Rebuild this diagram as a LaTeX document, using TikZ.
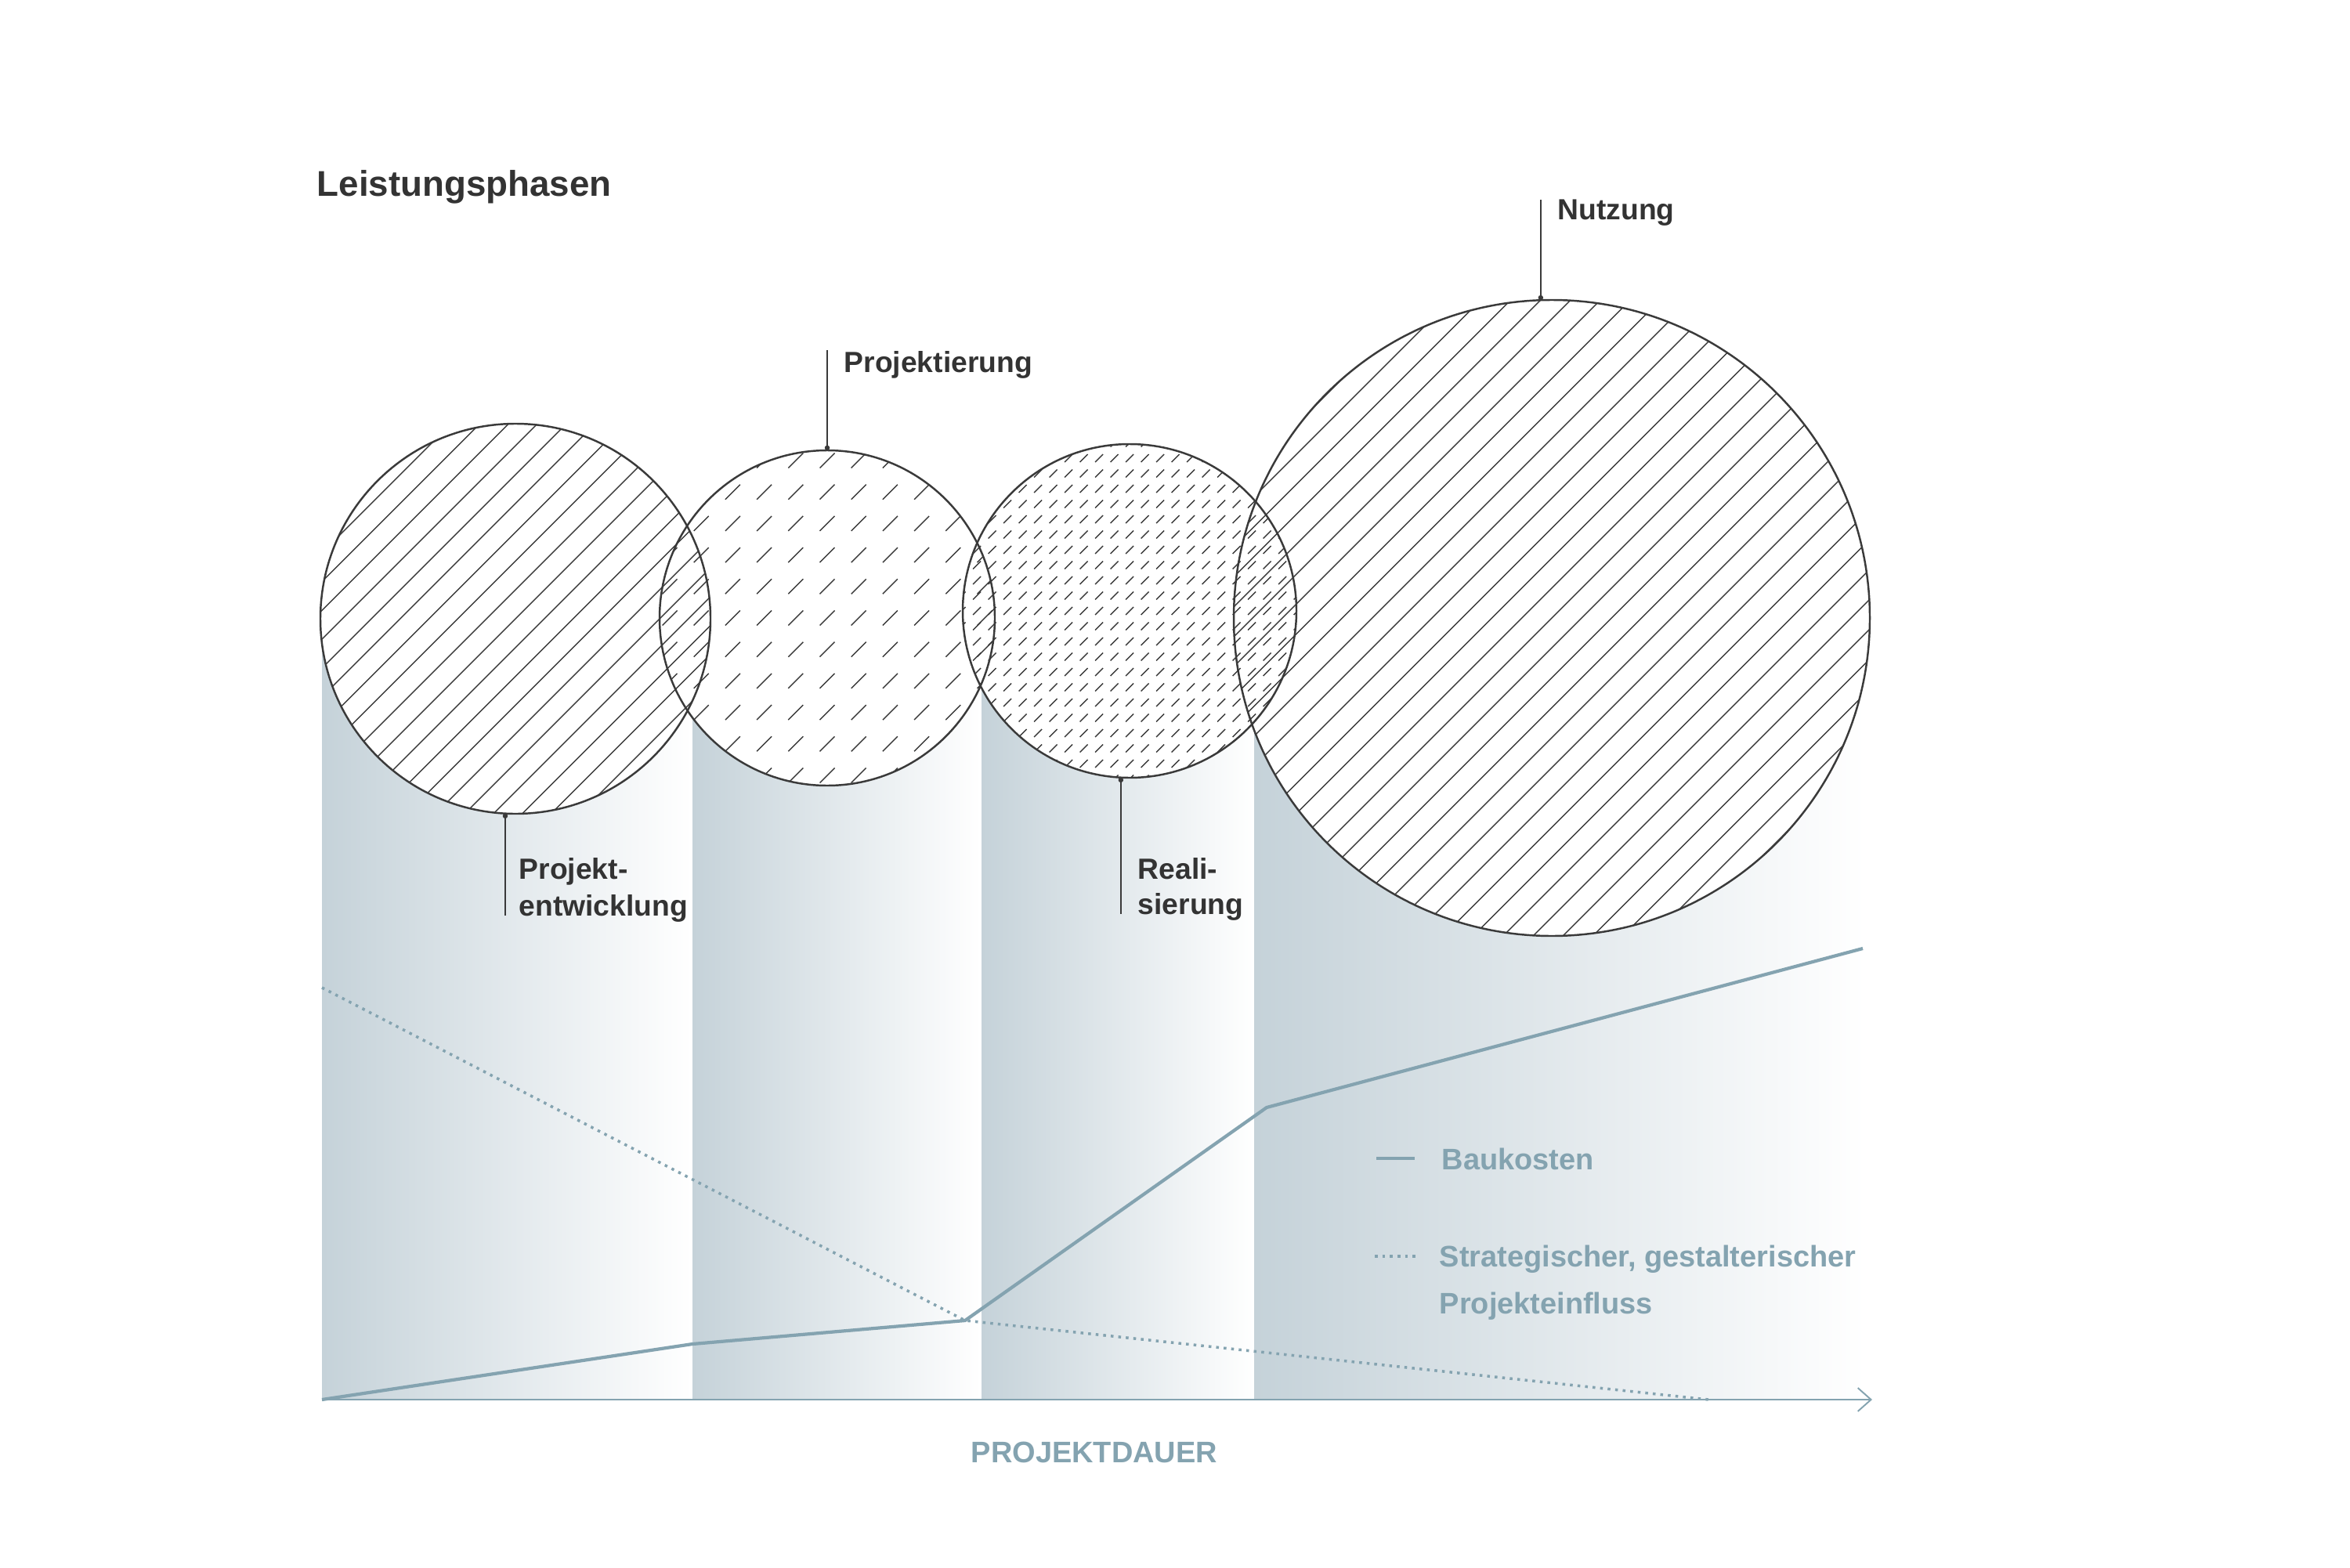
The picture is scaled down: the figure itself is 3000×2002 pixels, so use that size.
\documentclass[tikz,border=0pt]{standalone}
\usepackage{fontspec}
\setmainfont{Liberation Sans}
\usetikzlibrary{arrows.meta}
\definecolor{ink}{HTML}{333333}
\definecolor{rim}{HTML}{3A3A3A}
\definecolor{chart}{HTML}{84A3B0}
\definecolor{colshade}{HTML}{C5D2D9}

\begin{document}
\begin{tikzpicture}[x=0.1mm,y=-0.1mm,
  phase/.style={circle, draw=rim, line width=0.7pt, inner sep=0pt, outer sep=0pt},
  hatchline/.style={rim, line width=0.4pt},
  lines hatch/.style={path picture={
      \foreach \k in {-16,...,16}
        \draw[hatchline] ([xshift=\k*#1]path picture bounding box.center)
          ++(-60mm,-60mm) -- ++(120mm,120mm);}},
  dash hatch/.style n args={3}{path picture={
      \foreach \i in {-#3,...,#3}
        \foreach \j in {-#3,...,#3}
          \draw[hatchline] ([shift={(\i*#1,\j*#1)}]path picture bounding box.center)
            ++(-#2,-#2) -- ++(2*#2,2*#2);}},
  lbl/.style={font=\bfseries\fontsize{10.6}{12.8}\selectfont, text=ink, inner sep=0pt, anchor=base west},
  title/.style={font=\bfseries\fontsize{13}{16}\selectfont, text=ink, inner sep=0pt, anchor=base west},
  legend/.style={font=\bfseries\fontsize{10.8}{13}\selectfont, text=chart, inner sep=0pt, anchor=base west},
  axislabel/.style={font=\bfseries\fontsize{10.8}{13}\selectfont, text=chart, inner sep=0pt, anchor=base},
  leader/.style={rim, line width=0.6pt, {Circle[length=1.8pt]}-},
  cost/.style={chart, line width=1.2pt, line join=round},
  influence/.style={chart, line width=1pt, dash pattern=on 1pt off 1.75pt},
  axis/.style={chart, line width=0.55pt, -{Straight Barb[length=4.8pt,width=8.5pt]}}]
  \useasboundingbox (0,0) rectangle (3000,2002);

  % phase columns
  \foreach \a/\b in {411/884, 884/1253, 1253/1601, 1601/2382}
    \shade[left color=colshade, right color=white] (\a,830) rectangle (\b,1787);

  % axis and curves
  \coordinate (o) at (411,1787);
  \coordinate (tend) at (2390,1787);
  \draw[axis] (o) -- (tend);
  \node[axislabel] (dauer) at (1397,1867) {PROJEKTDAUER};
  \draw[cost] (o) -- (884,1716) -- (1232,1686) -- (1617,1414) -- (2378,1211);
  \draw[influence] (411,1261) -- (1232,1686) -- (2181,1787);

  % legend
  \node[legend] (lg1) at (1840,1493) {Baukosten};
  \node[legend] (lg2) at (1837,1617) {Strategischer, gestalterischer};
  \node[legend] (lg3) at (1837,1677) {Projekteinfluss};
  \draw[cost] (1757,1479) -- (1806,1479);
  \draw[influence] (1755,1604) -- (1808,1604);

  % phases
  \coordinate (m1) at (658,790);
  \coordinate (m2) at (1056,789);
  \coordinate (m3) at (1442,780);
  \coordinate (m4) at (1981,789);
  \foreach \m/\r in {m1/24.9mm, m2/21.4mm, m3/21.3mm, m4/40.6mm}
    \fill[white] (\m) circle[radius=\r];
  \node[phase, minimum size=49.8mm, lines hatch=3.68mm] (c1) at (m1) {};
  \node[phase, minimum size=42.8mm, dash hatch={4.02mm}{0.95mm}{6}] (c2) at (m2) {};
  \node[phase, minimum size=42.6mm, dash hatch={1.95mm}{0.5mm}{12}] (c3) at (m3) {};
  \node[phase, minimum size=81.2mm, lines hatch=3.82mm] (c4) at (m4) {};

  % labels
  \node[title] (head) at (404,251) {Leistungsphasen};
  \node[lbl] (lpe1) at (662,1122) {Projekt-};
  \node[lbl] (lpe2) at (662,1169) {entwicklung};
  \node[lbl] (lpr) at (1077,475) {Projektierung};
  \node[lbl] (lre1) at (1452,1122) {Reali-};
  \node[lbl] (lre2) at (1452,1167) {sierung};
  \node[lbl] (lnu) at (1988,281) {Nutzung};
  \draw[leader] (c1.-93) -- (c1.-93 |- lpe2.base);
  \draw[leader] (c2.north) -- (c2.north |- lpr.north);
  \draw[leader] (c3.-93) -- (c3.-93 |- lre2.base);
  \draw[leader] (c4.92) -- (c4.92 |- lnu.north);
\end{tikzpicture}
\end{document}
